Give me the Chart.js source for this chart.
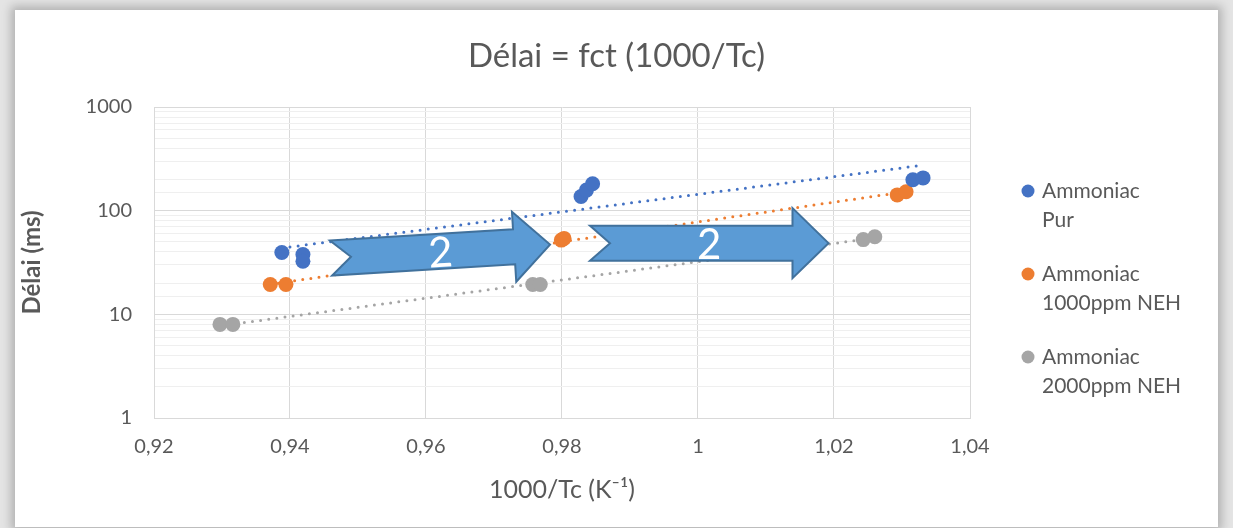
<!DOCTYPE html>
<html>
<head>
<meta charset="utf-8">
<script src="https://cdn.jsdelivr.net/npm/chart.js@4.4.0/dist/chart.umd.min.js"></script>
<style>
  html, body { margin: 0; padding: 0; width: 1233px; height: 528px; overflow: hidden; background: #e4e4e4; }
  #card { position: absolute; left: 15px; top: 10px; width: 1203px; height: 517px; background: #ffffff;
          box-shadow: 0 0 9px 4px rgba(0,0,0,0.22); }
  #c { position: absolute; left: 0; top: 0; width: 1233px; height: 528px; }
</style>
</head>
<body>
<div id="card"></div>
<canvas id="c" width="1233" height="528"></canvas>
<script>
// Series: 1000/Tc (K^-1) against ignition delay (ms)
const purX = [0.9388, 0.9419, 0.9419, 0.9828, 0.9836, 0.9845, 1.0316, 1.0331];
const purY = [39.5, 37.8, 32.5, 137, 158, 182, 199, 207];

const neh1000X = [0.9371, 0.9394, 0.9799, 0.9803, 1.0293, 1.0306];
const neh1000Y = [19.4, 19.4, 52, 54, 142, 152];

const neh2000X = [0.9297, 0.9316, 0.9757, 0.9768, 1.0243, 1.0260];
const neh2000Y = [8.0, 8.0, 19.4, 19.4, 52.6, 56];

const seriesNames = [
  ['Ammoniac', 'Pur'],
  ['Ammoniac', '1000ppm NEH'],
  ['Ammoniac', '2000ppm NEH']
];
const seriesColors = ['#4472c4', '#ed7d31', '#a5a5a5'];

const xTicks = [0.92, 0.94, 0.96, 0.98, 1.00, 1.02, 1.04];
const yTicks = [1, 10, 100, 1000];

// Block-arrow annotations (tail centre -> tip, in data units)
const arrows = [
  { from: [0.94603, 34.9], to: [0.97824, 47.1], text: '2' },
  { from: [0.98412, 48.6], to: [1.01919, 48.6], text: '2' }
];

const FONT = 'Lato, "Open Sans", "Noto Sans", sans-serif';
const TEXT = '#595959';

function pts(xs, ys) { return xs.map((x, i) => ({ x: x, y: ys[i] })); }

// Exponential trend (least squares on ln y), drawn over the series' x range
function expTrend(xs, ys) {
  const n = xs.length;
  const ly = ys.map(v => Math.log(v));
  const mx = xs.reduce((a, b) => a + b, 0) / n;
  const my = ly.reduce((a, b) => a + b, 0) / n;
  let sxy = 0, sxx = 0;
  for (let i = 0; i < n; i++) { sxy += (xs[i] - mx) * (ly[i] - my); sxx += (xs[i] - mx) ** 2; }
  const b = sxy / sxx, a = my - b * mx;
  const x0 = Math.min(...xs), x1 = Math.max(...xs);
  return [{ x: x0, y: Math.exp(a + b * x0) }, { x: x1, y: Math.exp(a + b * x1) }];
}

const raw = [[purX, purY], [neh1000X, neh1000Y], [neh2000X, neh2000Y]];

const datasets = [];
raw.forEach((s, i) => {
  datasets.push({
    label: seriesNames[i].join(' '),
    data: pts(s[0], s[1]),
    backgroundColor: seriesColors[i],
    borderColor: seriesColors[i],
    borderWidth: 0,
    pointRadius: 7.5,
    pointHoverRadius: 7.5,
    order: 1
  });
});
raw.forEach((s, i) => {
  datasets.push({
    label: 'trend',
    data: expTrend(s[0], s[1]),
    showLine: true,
    borderColor: seriesColors[i],
    borderWidth: 3,
    borderDash: [0, 8.2],
    borderCapStyle: 'round',
    pointRadius: 0,
    order: 2
  });
});

function isDecade(v) {
  const l = Math.log10(v);
  return Math.abs(l - Math.round(l)) < 1e-9;
}
function fmtX(v) {
  const r = Math.round(v * 100) / 100;
  return String(r).replace('.', ',');
}

const legendPlugin = {
  id: 'sideLegend',
  afterDraw(chart) {
    const ctx = chart.ctx;
    ctx.save();
    ctx.font = '21px ' + FONT;
    ctx.textBaseline = 'middle';
    ctx.textAlign = 'left';
    seriesNames.forEach((lines, i) => {
      const y = 191 + i * 83;
      ctx.fillStyle = seriesColors[i];
      ctx.beginPath();
      ctx.arc(1028, y, 6.5, 0, Math.PI * 2);
      ctx.fill();
      ctx.fillStyle = TEXT;
      lines.forEach((t, j) => ctx.fillText(t, 1042, y + j * 29));
    });
    ctx.restore();
  }
};

const arrowPlugin = {
  id: 'blockArrows',
  afterDatasetsDraw(chart) {
    const ctx = chart.ctx;
    const xs = chart.scales.x, ys = chart.scales.y;
    arrows.forEach(a => {
      const x0 = xs.getPixelForValue(a.from[0]), y0 = ys.getPixelForValue(a.from[1]);
      const x1 = xs.getPixelForValue(a.to[0]), y1 = ys.getPixelForValue(a.to[1]);
      const len = Math.hypot(x1 - x0, y1 - y0);
      const ang = Math.atan2(y1 - y0, x1 - x0);
      const h = 17.5, H = 35, hl = 36, notch = 20;
      ctx.save();
      ctx.translate(x0, y0);
      ctx.rotate(ang);
      ctx.beginPath();
      ctx.moveTo(0, -h);
      ctx.lineTo(len - hl, -h);
      ctx.lineTo(len - hl, -H);
      ctx.lineTo(len, 0);
      ctx.lineTo(len - hl, H);
      ctx.lineTo(len - hl, h);
      ctx.lineTo(0, h);
      ctx.lineTo(notch, 0);
      ctx.closePath();
      ctx.fillStyle = '#5b9bd5';
      ctx.fill();
      ctx.lineWidth = 2;
      ctx.strokeStyle = '#41719c';
      ctx.lineJoin = 'miter';
      ctx.stroke();
      ctx.fillStyle = '#ffffff';
      ctx.font = '42px ' + FONT;
      ctx.textAlign = 'center';
      ctx.textBaseline = 'middle';
      ctx.fillText(a.text, len * 0.5, 2);
      ctx.restore();
    });
  }
};

new Chart(document.getElementById('c'), {
  type: 'scatter',
  data: { datasets: datasets },
  plugins: [legendPlugin, arrowPlugin],
  options: {
    responsive: false,
    animation: false,
    events: [],
    layout: { padding: 0 },
    plugins: {
      legend: { display: false },
      tooltip: { enabled: false },
      title: {
        display: true,
        text: 'Délai = fct (1000/Tc)',
        color: TEXT,
        font: { family: FONT, size: 33, weight: 'normal' },
        padding: { top: 37, bottom: 30.4 }
      }
    },
    scales: {
      x: {
        type: 'linear',
        min: xTicks[0],
        max: xTicks[xTicks.length - 1],
        afterBuildTicks(s) { s.ticks = xTicks.map(v => ({ value: v })); },
        afterFit(s) { s.height = 110; },
        ticks: { callback: fmtX, color: TEXT, font: { family: FONT, size: 20 }, padding: 17, maxRotation: 0 },
        grid: { color: '#d9d9d9', lineWidth: 1, drawTicks: false },
        border: { color: '#d9d9d9' },
        title: {
          display: true,
          text: '1000/Tc (K⁻¹)',
          color: TEXT,
          font: { family: FONT, size: 25 },
          padding: { top: 0, bottom: 23 }
        }
      },
      y: {
        type: 'logarithmic',
        position: 'left',
        min: yTicks[0],
        max: yTicks[yTicks.length - 1],
        afterFit(s) { s.width = 154; },
        ticks: {
          autoSkip: false,
          color: TEXT,
          font: { family: FONT, size: 20 },
          padding: 22,
          callback: v => (isDecade(v) && yTicks.includes(Math.round(v))) ? String(Math.round(v)) : ''
        },
        grid: {
          drawTicks: false,
          color: c => isDecade(c.tick.value) ? '#d9d9d9' : '#efefef',
          lineWidth: 1
        },
        border: { color: '#d9d9d9' },
        title: {
          display: true,
          text: 'Délai (ms)',
          color: TEXT,
          font: { family: FONT, size: 24, weight: 'bold' },
          padding: { top: 17.6, bottom: 0 }
        }
      },
      legendSpace: {
        type: 'linear',
        position: 'right',
        display: true,
        afterFit(s) { s.width = 263; },
        ticks: { display: false },
        grid: { display: false },
        border: { display: false }
      }
    }
  }
});
</script>
</body>
</html>
